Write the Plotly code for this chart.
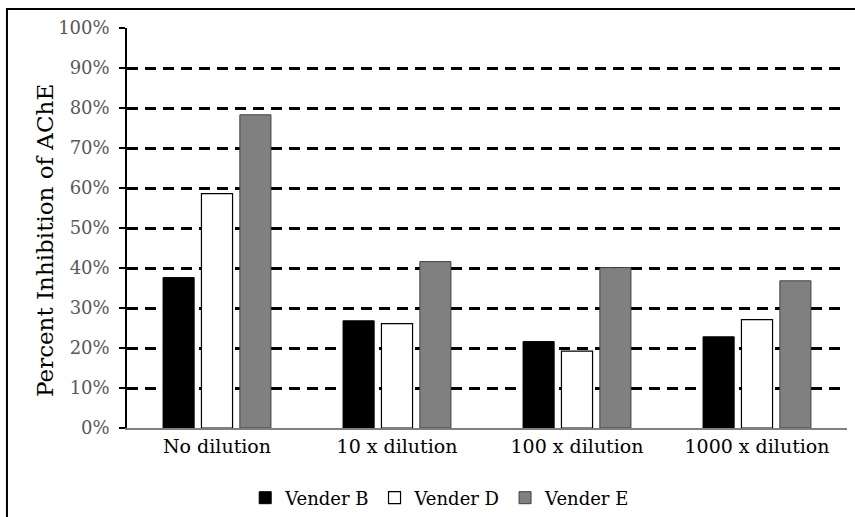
import plotly.graph_objects as go

categories = ["No dilution", "10 x dilution", "100 x dilution", "1000 x dilution"]
vender_b = [37.6, 26.8, 21.6, 22.8]
vender_d = [58.6, 26.1, 19.2, 27.1]
vender_e = [78.3, 41.6, 40.1, 36.8]
tick_vals = [0, 10, 20, 30, 40, 50, 60, 70, 80, 90, 100]
tick_text = [f"{v}%" for v in tick_vals]
y_title = "Percent Inhibition of AChE"

FONT = "DejaVu Serif"

fig = go.Figure()
fig.add_trace(go.Bar(name="Vender B", x=categories, y=vender_b,
                     marker=dict(color="#000000", line=dict(color="#000000", width=1))))
fig.add_trace(go.Bar(name="Vender D", x=categories, y=vender_d,
                     marker=dict(color="#ffffff", line=dict(color="#000000", width=1.2))))
fig.add_trace(go.Bar(name="Vender E", x=categories, y=vender_e,
                     marker=dict(color="#808080", line=dict(color="#404040", width=1))))

fig.update_layout(
    width=855, height=517, autosize=False,
    margin=dict(l=127, r=8, t=28, b=89, autoexpand=False),
    paper_bgcolor="white", plot_bgcolor="white",
    barmode="group", bargap=0.36, bargroupgap=0.19,
    font=dict(family=FONT, color="#000000", size=18),
    showlegend=True,
    legend=dict(orientation="h", x=0.435, xanchor="center", y=-0.175, yanchor="middle",
                font=dict(family=FONT, size=18, color="#000000"),
                itemwidth=30, tracegroupgap=0, traceorder="normal"),
    shapes=[dict(type="rect", xref="paper", yref="paper",
                 x0=-0.1667, x1=1.03, y0=-0.4, y1=1.0475,
                 line=dict(color="#000000", width=2), fillcolor="rgba(0,0,0,0)", layer="below")],
    annotations=[dict(text=y_title, textangle=-90, xref="paper", yref="paper",
                      x=-0.114, y=0.47, xanchor="center", yanchor="middle", showarrow=False,
                      font=dict(family=FONT, size=23, color="#000000"))],
)
fig.update_yaxes(
    range=[0, 100], tickvals=tick_vals, ticktext=tick_text,
    showgrid=True, gridcolor="#000000", gridwidth=2.5, griddash="11px,7px",
    showline=True, linecolor="#000000", linewidth=1.5,
    ticks="outside", ticklen=6, tickcolor="#000000", tickwidth=1.5,
    ticklabelstandoff=6,
    tickfont=dict(family=FONT, size=18, color="#595959"),
    zeroline=False, automargin=False,
)
fig.update_xaxes(
    showline=True, linecolor="#808080", linewidth=1.5, automargin=False,
    ticks="", tickfont=dict(family=FONT, size=19, color="#000000"),
)

fig.write_html("out.html",
               config={"displayModeBar": False},
               post_script="document.body.style.margin='0';document.body.style.overflow='hidden';")
